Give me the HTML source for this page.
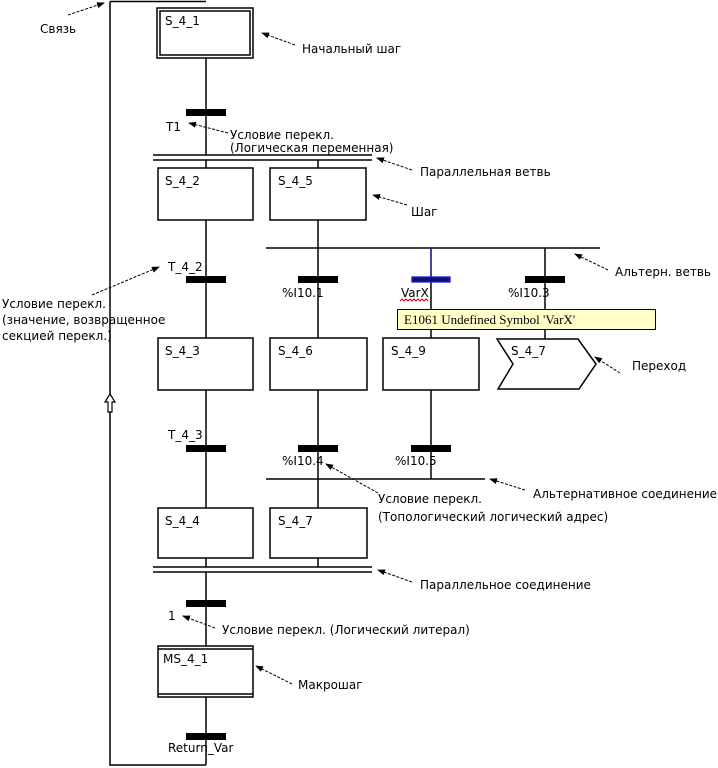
<!DOCTYPE html>
<html><head><meta charset="utf-8"><style>
html,body{margin:0;padding:0;background:#fff;}
svg{display:block;}
text{font-family:"DejaVu Sans","Liberation Sans",sans-serif;font-size:12px;fill:#000;}
</style></head><body>
<svg width="718" height="768" viewBox="0 0 718 768" xmlns="http://www.w3.org/2000/svg">
<defs><marker id="a" markerWidth="8" markerHeight="6" refX="7" refY="3" orient="auto"><path d="M0,0 L8,3 L0,6 z" fill="#000"/></marker></defs>
<g stroke="#000" stroke-width="1.5" fill="none">
<path d="M110,1.5 H206 M110,1.5 V765 H206"/>
<path d="M206,58 V155 M206,160 V168 M206,220 V338 M206,390 V508 M206,558 V567 M206,572 V646 M206,697 V765"/>
<path d="M318,160 V168 M318,220 V338 M318,390 V508 M318,558 V567"/>
<path d="M431,248 V338 M431,390 V479 M545,248 V339"/>
<path d="M266,248 H600 M266,479 H485"/>
<path d="M153,155 H372 M153,160 H372 M153,567 H372 M153,572 H372"/>
<rect x="157" y="8" width="96" height="50"/>
<rect x="160" y="11" width="90" height="44"/>
<rect x="158" y="168" width="95" height="52"/>
<rect x="270" y="168" width="96" height="52"/>
<rect x="158" y="338" width="95" height="52"/>
<rect x="270" y="338" width="97" height="52"/>
<rect x="383" y="338" width="96" height="52"/>
<path d="M497,339 H578 L596,364 L579,389 H498 L513,364 Z"/>
<rect x="158" y="508" width="95" height="50"/>
<rect x="270" y="508" width="97" height="50"/>
<rect x="158" y="646" width="95" height="51"/>
<path d="M158,649 H253 M158,694 H253"/>
<path d="M110,394 L105,402 H108 V412 H112 V402 H115 Z" fill="#fff" stroke-width="1.2"/>
</g>
<g fill="#000">
<rect x="186" y="109" width="40" height="7"/>
<rect x="186" y="276" width="40" height="7"/>
<rect x="298" y="276" width="40" height="7"/>
<rect x="525" y="276" width="40" height="7"/>
<rect x="186" y="445" width="40" height="7"/>
<rect x="298" y="445" width="40" height="7"/>
<rect x="411" y="445" width="40" height="7"/>
<rect x="186" y="600" width="40" height="7"/>
<rect x="186" y="733" width="40" height="7"/>
</g>
<rect x="412" y="277" width="38" height="5" fill="#0c0c7a" stroke="#2020c0" stroke-width="1.3"/>
<path d="M431,248 V277" stroke="#2020c0" stroke-width="1.2"/>
<path d="M400,301 l2,-2 2,2 2,-2 2,2 2,-2 2,2 2,-2 2,2 2,-2 2,2 2,-2 2,2 2,-2 2,2" stroke="#d00" fill="none" stroke-width="1"/>
<rect x="397.5" y="309.5" width="258" height="20" fill="#ffffc8" stroke="#000" stroke-width="1"/>
<text x="404" y="324" style="font-family:'Liberation Serif',serif;font-size:13px">E1061 Undefined Symbol 'VarX'</text>
<text x="165" y="25">S_4_1</text>
<text x="165" y="185">S_4_2</text>
<text x="278" y="185">S_4_5</text>
<text x="165" y="355">S_4_3</text>
<text x="278" y="355">S_4_6</text>
<text x="391" y="355">S_4_9</text>
<text x="511" y="355">S_4_7</text>
<text x="165" y="525">S_4_4</text>
<text x="278" y="525">S_4_7</text>
<text x="163" y="663">MS_4_1</text>
<text x="166" y="131">T1</text>
<text x="168" y="271">T_4_2</text>
<text x="282" y="297">%I10.1</text>
<text x="401" y="297">VarX</text>
<text x="508" y="297">%I10.3</text>
<text x="168" y="439">T_4_3</text>
<text x="282" y="465">%I10.4</text>
<text x="395" y="465">%I10.5</text>
<text x="168" y="620">1</text>
<text x="168" y="752">Return_Var</text>
<g stroke="#000" stroke-width="1" stroke-dasharray="3,1.5" fill="none" marker-end="url(#a)">
<path d="M68,15 L104,3"/>
<path d="M295,45 L262,33"/>
<path d="M228,133 L189,123"/>
<path d="M412,170 L377,158"/>
<path d="M407,205 L373,195"/>
<path d="M608,270 L575,254"/>
<path d="M92,295 L159,267"/>
<path d="M620,373 L595,357"/>
<path d="M378,493 L326,464"/>
<path d="M525,490 L490,479"/>
<path d="M412,582 L378,570"/>
<path d="M215,628 L183,616"/>
<path d="M292,684 L256,666"/>
</g>
<text x="40" y="33">Связь</text>
<text x="302" y="53">Начальный  шаг</text>
<text x="230" y="139">Условие перекл.</text>
<text x="230" y="152">(Логическая  переменная)</text>
<text x="420" y="176">Параллельная  ветвь</text>
<text x="411" y="216">Шаг</text>
<text x="615" y="276">Альтерн. ветвь</text>
<text x="2" y="308">Условие перекл.</text>
<text x="2" y="324">(значение, возвращенное</text>
<text x="2" y="340">секцией перекл.)</text>
<text x="632" y="370">Переход</text>
<text x="378" y="503">Условие перекл.</text>
<text x="378" y="521">(Топологический  логический  адрес)</text>
<text x="533" y="498">Альтернативное  соединение</text>
<text x="420" y="589">Параллельное  соединение</text>
<text x="222" y="634">Условие перекл. (Логический  литерал)</text>
<text x="298" y="689">Макрошаг</text>
</svg>
</body></html>
